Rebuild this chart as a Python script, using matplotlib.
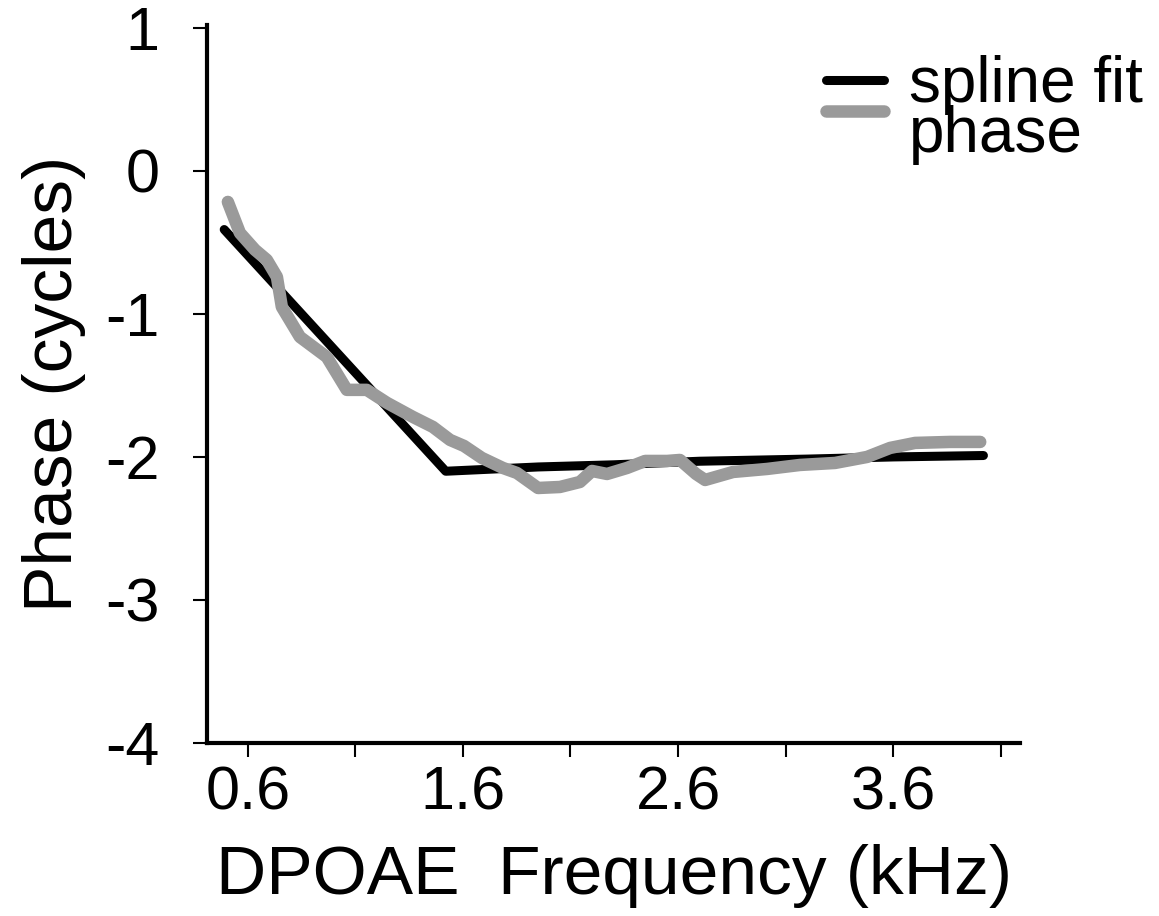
import numpy as np
import matplotlib
matplotlib.use("Agg")
from matplotlib import pyplot as plt
from matplotlib.legend_handler import HandlerLine2D

plt.rcParams['font.family'] = ['Liberation Sans', 'DejaVu Sans']

# spline fit (black)
fit_freq = [0.49, 1.52, 1.95, 2.3, 2.7, 3.2, 3.6, 4.02]
fit_phase = [-0.41, -2.10, -2.07, -2.055, -2.03, -2.015, -2.0, -1.99]

# measured phase (grey)
phase_freq = [0.507, 0.563, 0.633, 0.688, 0.735, 0.758, 0.842, 0.967, 1.06, 1.153,
              1.247, 1.367, 1.46, 1.54, 1.605, 1.688, 1.786, 1.851, 1.949, 2.051,
              2.144, 2.2, 2.27, 2.363, 2.447, 2.549, 2.609, 2.684, 2.726, 2.856,
              3.014, 3.167, 3.33, 3.479, 3.586, 3.702, 3.865, 4.005]
phase_vals = [-0.217, -0.434, -0.552, -0.622, -0.741, -0.951, -1.161, -1.301, -1.531, -1.531,
              -1.622, -1.72, -1.79, -1.881, -1.923, -2.007, -2.077, -2.112, -2.217, -2.21,
              -2.175, -2.098, -2.119, -2.077, -2.028, -2.028, -2.021, -2.119, -2.161, -2.105,
              -2.084, -2.056, -2.042, -2.0, -1.937, -1.902, -1.895, -1.895]

xticks = [0.6, 1.1, 1.6, 2.1, 2.6, 3.1, 3.6, 4.1]
xticklabels = ['0.6', '', '1.6', '', '2.6', '', '3.6', '']
yticks = [-4, -3, -2, -1, 0, 1]
yticklabels = ['-4', '-3', '-2', '-1', '0', '1']


class ShiftedLine(HandlerLine2D):
    # legend line raised by a fraction of the font size
    def __init__(self, shift=0.0, **kw):
        super().__init__(**kw)
        self.shift = shift

    def create_artists(self, legend, orig_handle, xdescent, ydescent, width, height,
                       fontsize, trans):
        arts = super().create_artists(legend, orig_handle, xdescent, ydescent, width,
                                      height, fontsize, trans)
        for a in arts:
            a.set_ydata(np.asarray(a.get_ydata()) + self.shift * fontsize)
        return arts


fig = plt.figure(figsize=(11.59, 9.16), dpi=100)
ax = fig.add_axes([207 / 1159, 1 - 743 / 916, (1020 - 207) / 1159, (743 - 25) / 916])

l1, = ax.plot(fit_freq, fit_phase, color='black', lw=6.5, solid_capstyle='round',
              solid_joinstyle='round', label='spline fit')
l2, = ax.plot(phase_freq, phase_vals, color='#9a9a9a', lw=9, solid_capstyle='round',
              solid_joinstyle='round', label='phase')

ax.set_xlim(0.41, 4.19)
ax.set_ylim(-4, 1.02)
ax.set_xticks(xticks)
ax.set_xticklabels(xticklabels)
ax.set_yticks(yticks)
ax.set_yticklabels(yticklabels)

for s in ['top', 'right']:
    ax.spines[s].set_visible(False)
for s in ['left', 'bottom']:
    ax.spines[s].set_linewidth(3)

ax.tick_params(axis='x', direction='out', length=10, width=1.5, pad=6, labelsize=44)
ax.tick_params(axis='y', direction='out', length=10, width=1.5, pad=24, labelsize=44)

ax.set_xlabel('DPOAE  Frequency (kHz)', fontsize=50, labelpad=16)
ax.set_ylabel('Phase (cycles)', fontsize=50, labelpad=14)

fig.legend(handles=[l1, l2], loc='upper left', bbox_to_anchor=(826 / 1159, 1 - 55 / 916),
           frameon=False, fontsize=46, handlelength=0.9, handletextpad=0.4,
           labelspacing=-0.15, borderpad=0, borderaxespad=0,
           handler_map={l1: ShiftedLine(0.0), l2: ShiftedLine(0.3)})

fig.savefig("out.png", dpi=100)
